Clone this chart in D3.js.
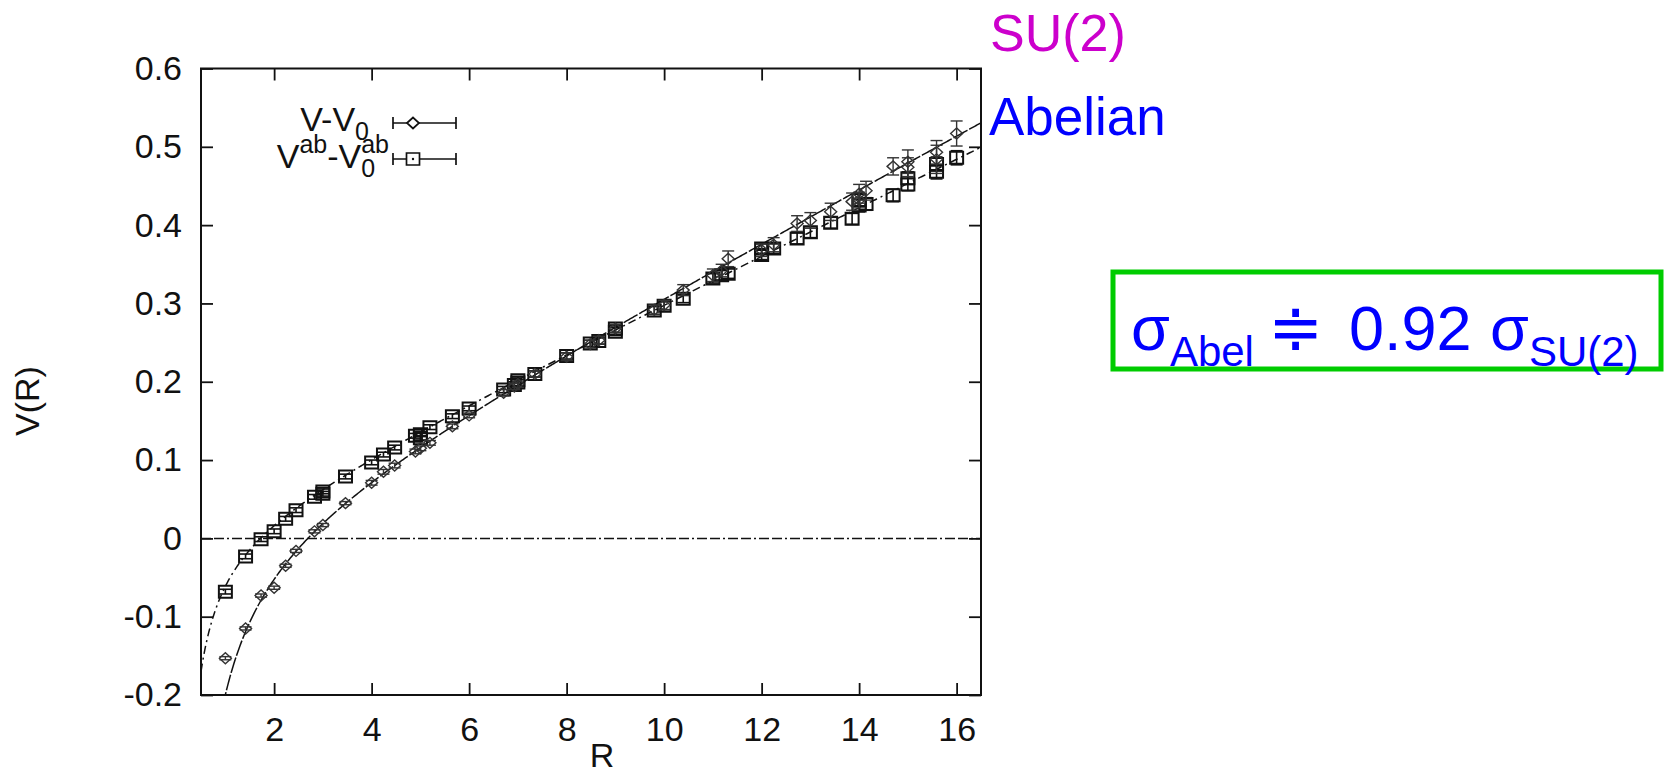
<!DOCTYPE html>
<html><head><meta charset="utf-8">
<script src="https://cdn.jsdelivr.net/npm/d3@7"></script>
<style>
html,body{margin:0;padding:0;background:#fff;}
svg{display:block;font-family:"Liberation Sans",Arial,Helvetica,sans-serif;}
</style></head><body>
<svg id="chart" width="1665" height="775"></svg>
<script>
// SU(2) static potential V(R)-V0: separation R, value, statistical error
const rSU2 = [1.0, 1.414, 1.732, 2.0, 2.236, 2.449, 2.828, 3.0, 3.464, 4.0, 4.243, 4.472, 4.899, 5.0, 5.196, 5.657, 6.0,
  6.708, 6.928, 7.0, 7.348, 8.0, 8.485, 8.660, 9.0, 9.798, 10.0, 10.392, 11.0, 11.180, 11.314, 12.0, 12.247,
  12.728, 13.0, 13.416, 13.856, 14.0, 14.0, 14.142, 14.697, 15.0, 15.0, 15.588, 15.588, 16.0];
const vSU2 = [-0.153, -0.115, -0.073, -0.063, -0.035, -0.016, 0.009, 0.017, 0.045, 0.071, 0.085, 0.093, 0.111, 0.115, 0.122, 0.143, 0.157,
  0.186, 0.194, 0.197, 0.210, 0.232, 0.248, 0.253, 0.268, 0.292, 0.298, 0.317, 0.336, 0.342, 0.357, 0.368, 0.375,
  0.402, 0.406, 0.417, 0.430, 0.440, 0.432, 0.444, 0.475, 0.481, 0.474, 0.484, 0.493, 0.517];
const eSU2 = [0.002, 0.002, 0.002, 0.002, 0.002, 0.002, 0.002, 0.002, 0.002, 0.003, 0.003, 0.003, 0.003, 0.003, 0.003, 0.003, 0.003,
  0.004, 0.004, 0.004, 0.004, 0.005, 0.005, 0.005, 0.005, 0.006, 0.006, 0.007, 0.008, 0.008, 0.010, 0.008, 0.009,
  0.010, 0.010, 0.011, 0.011, 0.012, 0.010, 0.012, 0.011, 0.015, 0.012, 0.018, 0.015, 0.016];

// Abelian part V^ab(R)-V0^ab
const rAbel = [1.0, 1.414, 1.732, 2.0, 2.236, 2.449, 2.828, 3.0, 3.0, 3.464, 4.0, 4.243, 4.472, 4.899, 5.0, 5.0, 5.196, 5.657, 6.0,
  6.708, 6.928, 7.0, 7.0, 7.348, 8.0, 8.485, 8.660, 9.0, 9.0, 9.798, 10.0, 10.392, 11.0, 11.180, 11.314, 12.0, 12.0, 12.247,
  12.728, 13.0, 13.416, 13.856, 14.0, 14.0, 14.142, 14.697, 15.0, 15.0, 15.588, 15.588, 16.0];
const vAbel = [-0.068, -0.023, -0.001, 0.009, 0.025, 0.036, 0.053, 0.057, 0.060, 0.079, 0.097, 0.107, 0.116, 0.131, 0.133, 0.128, 0.142, 0.156, 0.166,
  0.190, 0.196, 0.199, 0.202, 0.210, 0.233, 0.249, 0.252, 0.264, 0.268, 0.291, 0.297, 0.306, 0.332, 0.336, 0.338, 0.362, 0.370, 0.370,
  0.383, 0.391, 0.403, 0.408, 0.425, 0.432, 0.427, 0.438, 0.452, 0.460, 0.468, 0.478, 0.486];
const eAbel = [0.003, 0.003, 0.003, 0.003, 0.003, 0.003, 0.003, 0.003, 0.003, 0.003, 0.003, 0.003, 0.003, 0.003, 0.003, 0.003, 0.003, 0.003, 0.003,
  0.004, 0.004, 0.004, 0.004, 0.004, 0.004, 0.004, 0.004, 0.005, 0.005, 0.005, 0.005, 0.005, 0.006, 0.006, 0.006, 0.006, 0.006, 0.006,
  0.007, 0.007, 0.007, 0.007, 0.008, 0.008, 0.008, 0.008, 0.008, 0.008, 0.009, 0.009, 0.009];

// Fit V(R) = sigma*R - alpha/R + c, parameters [sigma, alpha, c]
const fitSU2 = [0.0333, 0.228, -0.005];
const fitAbel = [0.0305, 0.0936, 0.0019];

const xTicks = [2, 4, 6, 8, 10, 12, 14, 16];
const yTicks = [-0.2, -0.1, 0, 0.1, 0.2, 0.3, 0.4, 0.5, 0.6];
const yTickLabels = ["-0.2", "-0.1", "0", "0.1", "0.2", "0.3", "0.4", "0.5", "0.6"];

const svg = d3.select("#chart");
const x = d3.scaleLinear().domain([0.5, 16.5]).range([201, 981]);
const y = d3.scaleLinear().domain([-0.2, 0.6]).range([695, 68.5]);
const ink = "#111";
const fontPx = 34;

function styleAxis(g) {
  g.attr("font-family", null).attr("font-size", null);
  g.select(".domain").remove();
  g.selectAll(".tick line").attr("stroke", ink).attr("stroke-width", 1.8);
  g.selectAll(".tick text").attr("fill", "#111").style("font-size", fontPx + "px");
}

svg.append("g").attr("transform", "translate(201,0)")
  .call(d3.axisLeft(y).tickValues(yTicks).tickFormat((d, i) => yTickLabels[i])
    .tickSizeInner(-12).tickSizeOuter(0).tickPadding(19))
  .call(styleAxis);
svg.append("g").attr("transform", "translate(981,0)")
  .call(d3.axisRight(y).tickValues(yTicks).tickFormat(() => "").tickSizeInner(-12).tickSizeOuter(0))
  .call(styleAxis);
svg.append("g").attr("transform", "translate(0,695)")
  .call(d3.axisBottom(x).tickValues(xTicks).tickFormat(d3.format("d"))
    .tickSizeInner(-12).tickSizeOuter(0).tickPadding(22))
  .call(styleAxis);
svg.append("g").attr("transform", "translate(0,68.5)")
  .call(d3.axisTop(x).tickValues(xTicks).tickFormat(() => "").tickSizeInner(-12).tickSizeOuter(0))
  .call(styleAxis);

// plot frame
svg.append("rect")
  .attr("x", x(0.5)).attr("y", y(0.6))
  .attr("width", x(16.5) - x(0.5)).attr("height", y(-0.2) - y(0.6))
  .attr("fill", "none").attr("stroke", ink).attr("stroke-width", 2);

// axis titles
svg.append("text").attr("x", 602).attr("y", 767).attr("text-anchor", "middle")
  .style("font-size", fontPx + "px").attr("fill", "#111").text("R");
svg.append("text").attr("transform", "translate(39,401) rotate(-90)").attr("text-anchor", "middle")
  .style("font-size", fontPx + "px").attr("fill", "#111").text("V(R)");

// clip region for curves
svg.append("clipPath").attr("id", "plotClip").append("rect")
  .attr("x", x(0.5)).attr("y", y(0.6))
  .attr("width", x(16.5) - x(0.5)).attr("height", y(-0.2) - y(0.6));
const plot = svg.append("g").attr("clip-path", "url(#plotClip)");

// zero line
plot.append("line")
  .attr("x1", x(0.5)).attr("x2", x(16.5)).attr("y1", y(0)).attr("y2", y(0))
  .attr("stroke", ink).attr("stroke-width", 1.5).attr("stroke-dasharray", "10,3,10,3,2,3");

// fit curves
const rGrid = d3.range(0.5, 16.52, 0.02);
const fitFn = p => r => p[0] * r - p[1] / r + p[2];
const line = d3.line().x(d => x(d[0])).y(d => y(d[1]));
const fSU2 = fitFn(fitSU2), fAb = fitFn(fitAbel);
plot.append("path").datum(rGrid.map(r => [r, fSU2(r)]))
  .attr("d", line).attr("fill", "none").attr("stroke", ink)
  .attr("stroke-width", 1.5).attr("stroke-dasharray", "16,2");
plot.append("path").datum(rGrid.map(r => [r, fAb(r)]))
  .attr("d", line).attr("fill", "none").attr("stroke", ink)
  .attr("stroke-width", 1.5).attr("stroke-dasharray", "8,4,2,4");

// markers
const capW = 6;
function errorBars(g, rs, vs, es, color, width) {
  rs.forEach((r, i) => {
    const cx = x(r), y1 = y(vs[i] - es[i]), y2 = y(vs[i] + es[i]);
    g.append("line").attr("x1", cx).attr("x2", cx).attr("y1", y1).attr("y2", y2)
      .attr("stroke", color).attr("stroke-width", width);
    [y1, y2].forEach(yy => g.append("line").attr("x1", cx - capW).attr("x2", cx + capW)
      .attr("y1", yy).attr("y2", yy).attr("stroke", color).attr("stroke-width", width));
  });
}
const diamond = (cx, cy) => `M${cx - 6},${cy}L${cx},${cy - 5.5}L${cx + 6},${cy}L${cx},${cy + 5.5}Z`;
const square = (cx, cy) => `M${cx - 6.5},${cy - 6}h13v12h-13Z`;

const gAb = svg.append("g");
errorBars(gAb, rAbel, vAbel, eAbel, ink, 1.6);
rAbel.forEach((r, i) => gAb.append("path").attr("d", square(x(r), y(vAbel[i])))
  .attr("fill", "none").attr("stroke", ink).attr("stroke-width", 2));

const gSU = svg.append("g");
errorBars(gSU, rSU2, vSU2, eSU2, "#333", 1.4);
rSU2.forEach((r, i) => gSU.append("path").attr("d", diamond(x(r), y(vSU2[i])))
  .attr("fill", "none").attr("stroke", "#333").attr("stroke-width", 1.4));

// legend: key labels, right-aligned in front of the error-bar samples
const legendFont = 34, scriptFont = 25;
function keyLabel(xEnd, y0) {
  return svg.append("text").attr("x", 0).attr("y", y0).attr("fill", "#111")
    .style("font-size", legendFont + "px").datum(xEnd);
}
function alignRight(t) {
  const w = t.node().getBBox().width;
  t.attr("transform", `translate(${t.datum() - w},0)`);
}
const key1 = keyLabel(369, 131);
key1.append("tspan").text("V-V");
key1.append("tspan").attr("dy", 9).style("font-size", scriptFont + "px").text("0");
alignRight(key1);

const key2 = keyLabel(389, 168);
key2.append("tspan").text("V");
key2.append("tspan").attr("dy", -15).style("font-size", scriptFont + "px").text("ab");
key2.append("tspan").attr("dy", 15).text("-V");
key2.append("tspan").attr("dy", 9).style("font-size", scriptFont + "px").text("0");
// superscript stacked over the subscript
const subX = key2.node().getStartPositionOfChar(5).x;
key2.append("tspan").attr("x", subX).attr("dy", -24).style("font-size", scriptFont + "px").text("ab");
alignRight(key2);

function legendSample(cy, kind) {
  const g = svg.append("g");
  g.append("line").attr("x1", 393).attr("x2", 456).attr("y1", cy).attr("y2", cy)
    .attr("stroke", ink).attr("stroke-width", 1.7);
  [393, 456].forEach(xx => g.append("line").attr("x1", xx).attr("x2", xx)
    .attr("y1", cy - 6).attr("y2", cy + 6).attr("stroke", ink).attr("stroke-width", 1.7));
  g.append("path").attr("d", kind === "d" ? diamond(413, cy) : square(413, cy))
    .attr("fill", "#fff").attr("stroke", ink).attr("stroke-width", 1.7);
  if (kind === "s") g.append("circle").attr("cx", 413).attr("cy", cy).attr("r", 1.2).attr("fill", ink);
}
legendSample(123, "d");
legendSample(159, "s");

// series names beside the plot
svg.append("text").attr("x", 990).attr("y", 51).style("font-size", "52px")
  .attr("fill", "#cc00cc").text("SU(2)");
svg.append("text").attr("x", 989).attr("y", 135).style("font-size", "53px")
  .attr("fill", "#0000ff").text("Abelian");

// string-tension ratio box
svg.append("rect").attr("x", 1113).attr("y", 272).attr("width", 548).attr("height", 97)
  .attr("fill", "none").attr("stroke", "#00cc00").attr("stroke-width", 5);
const blue = "#0000ff";
const eq = svg.append("text").attr("y", 350).attr("fill", blue).style("font-size", "63px");
eq.append("tspan").attr("x", 1131).text("σ");
eq.append("tspan").attr("dy", 16).style("font-size", "42px").text("Abel");
eq.append("tspan").attr("x", 1268).attr("dy", -16).style("font-family", "'DejaVu Sans'").style("font-size", "66px").text("≑");
eq.append("tspan").attr("x", 1349).text("0.92");
eq.append("tspan").attr("x", 1490).text("σ");
eq.append("tspan").attr("dy", 16).style("font-size", "42px").text("SU(2)");
</script>
</body></html>
